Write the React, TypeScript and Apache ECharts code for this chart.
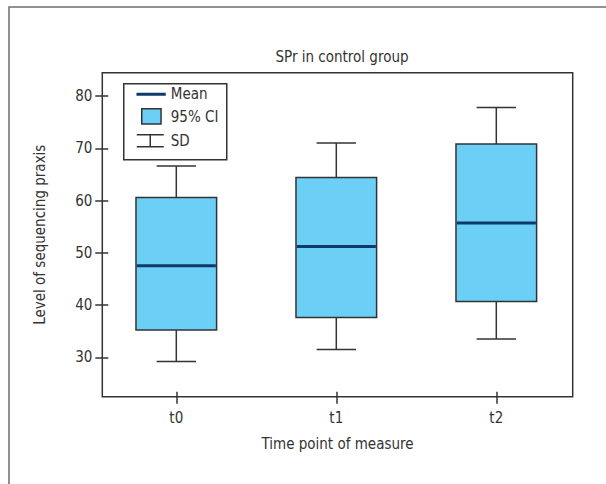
import React, { useEffect, useRef } from "react";
import * as echarts from "echarts";

const categories = ["t0", "t1", "t2"];
const sdLow = [29.2, 31.5, 33.5];
const ciLow = [35.2, 37.6, 40.7];
const means = [47.5, 51.2, 55.7];
const ciHigh = [60.6, 64.4, 70.8];
const sdHigh = [66.6, 71.0, 77.8];
const yTicks = [30, 40, 50, 60, 70, 80];
const xTicks = [0, 1, 2];

const FONT = "'DejaVu Sans Condensed', 'Liberation Sans Narrow', 'Noto Sans', sans-serif";
const DARK = "#333333";
const FILL = "#6ccff6";
const NAVY = "#0d3a6b";

export default function App() {
  const ref = useRef<HTMLDivElement>(null);
  useEffect(() => {
    if (!ref.current) return;
    const chart = echarts.init(ref.current, undefined, { renderer: "svg" });
    const data = categories.map((_, i) => [i, sdLow[i], ciLow[i], means[i], ciHigh[i], sdHigh[i]]);
    const noLine = { show: false, onZero: false };
    const option: any = {
      animation: false,
      backgroundColor: "#ffffff",
      title: {
        text: "SPr in control group",
        left: 337,
        top: 44,
        textAlign: "center",
        textStyle: { fontFamily: FONT, fontSize: 15, fontWeight: "normal", color: DARK },
      },
      grid: {
        left: 102.3,
        top: 72.7,
        right: 33.3,
        bottom: 87.3,
        show: true,
        borderColor: DARK,
        borderWidth: 1.5,
        backgroundColor: "transparent",
      },
      xAxis: [
        {
          type: "value",
          min: -0.4625,
          max: 2.4775,
          name: "Time point of measure",
          nameLocation: "middle",
          nameGap: 40,
          nameTextStyle: { fontFamily: FONT, fontSize: 15, color: DARK },
          axisLine: noLine,
          splitLine: { show: false },
          axisTick: { show: true, length: 7, customValues: xTicks, lineStyle: { color: DARK, width: 1.5 } },
          axisLabel: {
            customValues: xTicks,
            formatter: (v: number) => categories[Math.round(v)],
            fontFamily: FONT,
            fontSize: 15,
            color: DARK,
            margin: 14,
          },
        },
        {
          type: "value",
          min: -0.4625,
          max: 2.4775,
          position: "bottom",
          axisLine: noLine,
          splitLine: { show: false },
          axisLabel: { show: false },
          axisTick: { show: true, inside: true, length: 5, customValues: xTicks, lineStyle: { color: DARK, width: 1.5 } },
        },
      ],
      yAxis: [
        {
          type: "value",
          min: 22.46,
          max: 84.46,
          position: "left",
          name: "Level of sequencing praxis",
          nameLocation: "middle",
          nameGap: 55,
          nameTextStyle: { fontFamily: FONT, fontSize: 15, color: DARK },
          axisLine: noLine,
          splitLine: { show: false },
          axisTick: { show: true, length: 7, customValues: yTicks, lineStyle: { color: DARK, width: 1.5 } },
          axisLabel: { customValues: yTicks, fontFamily: FONT, fontSize: 15, color: DARK, margin: 10 },
        },
        {
          type: "value",
          min: 22.46,
          max: 84.46,
          position: "left",
          axisLine: noLine,
          splitLine: { show: false },
          axisLabel: { show: false },
          axisTick: { show: true, inside: true, length: 6, customValues: yTicks, lineStyle: { color: DARK, width: 1.5 } },
        },
      ],
      series: [
        {
          type: "custom",
          xAxisIndex: 0,
          yAxisIndex: 0,
          data,
          encode: { x: 0, y: [1, 2, 3, 4, 5] },
          renderItem: (params: any, api: any) => {
            const x = api.value(0);
            const pLow = api.coord([x, api.value(1)]);
            const pQ1 = api.coord([x, api.value(2)]);
            const pMean = api.coord([x, api.value(3)]);
            const pQ3 = api.coord([x, api.value(4)]);
            const pHigh = api.coord([x, api.value(5)]);
            const boxW = api.size([0.504, 0])[0];
            const capW = api.size([0.246, 0])[0];
            const cx = pMean[0];
            const lineStyle = { stroke: DARK, lineWidth: 1.5 };
            return {
              type: "group",
              children: [
                { type: "line", shape: { x1: cx, y1: pHigh[1], x2: cx, y2: pQ3[1] }, style: lineStyle },
                { type: "line", shape: { x1: cx - capW / 2, y1: pHigh[1], x2: cx + capW / 2, y2: pHigh[1] }, style: lineStyle },
                { type: "line", shape: { x1: cx, y1: pLow[1], x2: cx, y2: pQ1[1] }, style: lineStyle },
                { type: "line", shape: { x1: cx - capW / 2, y1: pLow[1], x2: cx + capW / 2, y2: pLow[1] }, style: lineStyle },
                {
                  type: "rect",
                  shape: { x: cx - boxW / 2, y: pQ3[1], width: boxW, height: pQ1[1] - pQ3[1] },
                  style: { fill: FILL, stroke: DARK, lineWidth: 1.5 },
                },
                {
                  type: "line",
                  shape: { x1: cx - boxW / 2 + 0.75, y1: pMean[1], x2: cx + boxW / 2 - 0.75, y2: pMean[1] },
                  style: { stroke: NAVY, lineWidth: 3 },
                },
              ],
            };
          },
        },
      ],
      graphic: [
        {
          type: "polyline",
          shape: { points: [[9, 484], [9, 7], [606, 7]] },
          style: { stroke: "#6e6e6e", lineWidth: 1.5, fill: "none" },
          silent: true,
        },
        {
          type: "group",
          left: 123,
          top: 83,
          children: [
            { type: "rect", shape: { x: 0, y: 0, width: 103, height: 76 }, style: { fill: "#ffffff", stroke: DARK, lineWidth: 1.5 } },
            { type: "line", shape: { x1: 12.7, y1: 10.5, x2: 42, y2: 10.5 }, style: { stroke: NAVY, lineWidth: 3 } },
            { type: "text", x: 47, y: 10.5, style: { text: "Mean", font: `15px ${FONT}`, fill: DARK, verticalAlign: "middle" } },
            { type: "rect", shape: { x: 18, y: 25, width: 19.3, height: 15.3 }, style: { fill: FILL, stroke: DARK, lineWidth: 1.5 } },
            { type: "text", x: 47, y: 33, style: { text: "95% CI", font: `15px ${FONT}`, fill: DARK, verticalAlign: "middle" } },
            { type: "line", shape: { x1: 13, y1: 51, x2: 40, y2: 51 }, style: { stroke: DARK, lineWidth: 1.5 } },
            { type: "line", shape: { x1: 13, y1: 63, x2: 40, y2: 63 }, style: { stroke: DARK, lineWidth: 1.5 } },
            { type: "line", shape: { x1: 26.5, y1: 51, x2: 26.5, y2: 63 }, style: { stroke: DARK, lineWidth: 1.5 } },
            { type: "text", x: 47, y: 57, style: { text: "SD", font: `15px ${FONT}`, fill: DARK, verticalAlign: "middle" } },
          ],
        },
      ],
    };
    chart.setOption(option);
    return () => chart.dispose();
  }, []);
  return <div ref={ref} style={{ width: 606, height: 484, position: "absolute", left: 0, top: 0 }} />;
}
